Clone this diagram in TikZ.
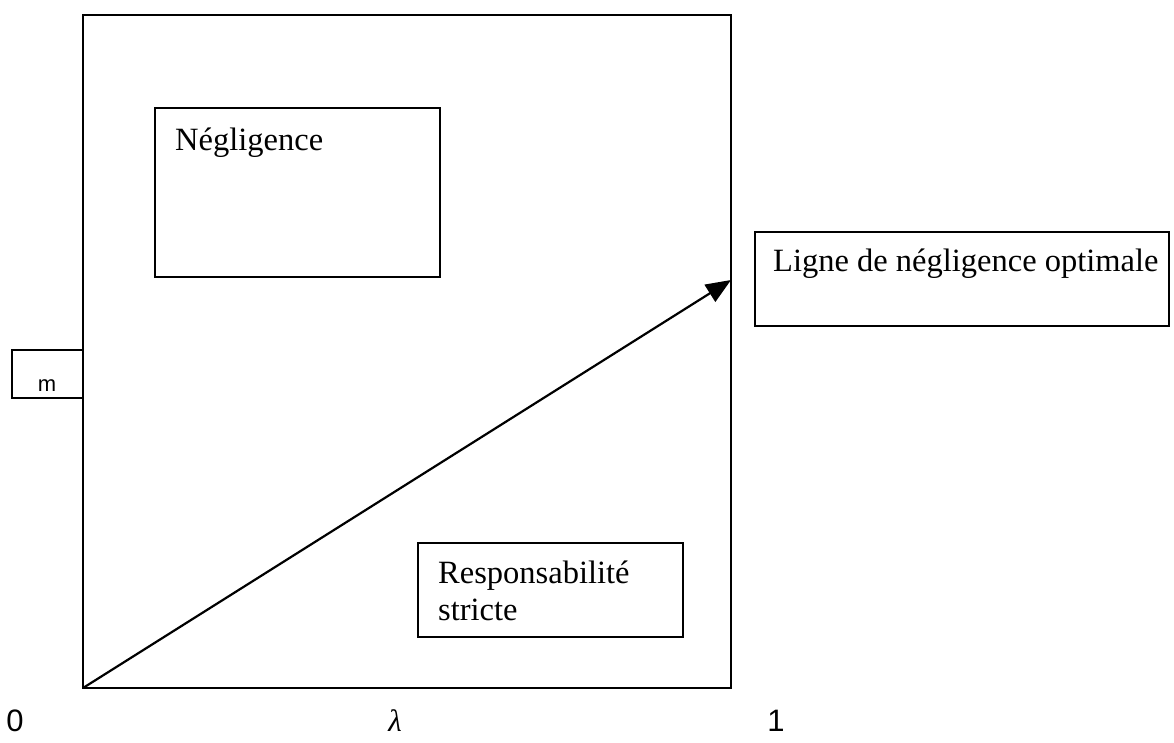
\documentclass[tikz,border=0pt]{standalone}
\usepackage{fontspec}
\setmainfont{Liberation Serif}
\newfontfamily\arialfont{Liberation Sans}
\usetikzlibrary{arrows.meta}
\tikzset{
  boxshape/.style={draw, line width=2.2pt, rectangle, inner sep=0pt, outer sep=0pt, anchor=north west},
  boxtext/.style={anchor=base west, inner sep=0pt, font=\fontsize{32.5}{37.5}\selectfont},
  axislabel/.style={anchor=base, inner sep=0pt, font=\arialfont\fontsize{31}{36}\selectfont},
}
\begin{document}
\begin{tikzpicture}[x=1pt,y=-1pt]
\useasboundingbox (0,0) rectangle (1174,742);
% main frame
\node[boxshape, minimum width=648pt, minimum height=673pt] (main) at (83,15) {};
% small m box
\node[boxshape, minimum width=71pt, minimum height=48pt] (mbox) at (12,350) {};
\node[anchor=base, inner sep=0pt, font=\arialfont\fontsize{22}{26}\selectfont] (mlab) at (47,391) {m};
% Negligence box
\node[boxshape, minimum width=285pt, minimum height=169pt] (negbox) at (155,108) {};
\node[boxtext] (negtxt) at (175,150) {Négligence};
% Responsabilite box
\node[boxshape, minimum width=265pt, minimum height=94pt] (respbox) at (418,543) {};
\node[boxtext] (resptxt) at (438,583) {Responsabilité};
\node[boxtext] (resptxtb) at (438,620) {stricte};
% Ligne box
\node[boxshape, minimum width=414pt, minimum height=94pt] (lignebox) at (755,232) {};
\node[boxtext] (lignetxt) at (773,271) {Ligne de négligence optimale};
% arrow
\coordinate (tip) at (731,280);
\draw[line width=2.2pt, -{Triangle[length=25pt,width=20pt]}] (main.south west) -- (tip);
% axis labels
\node[axislabel] (zero) at (15,731) {0};
\node[anchor=base, inner sep=0pt, font=\fontsize{31}{36}\selectfont\itshape] (lam) at (395,731) {λ};
\node[axislabel] (one) at (776,731) {1};
\end{tikzpicture}
\end{document}
